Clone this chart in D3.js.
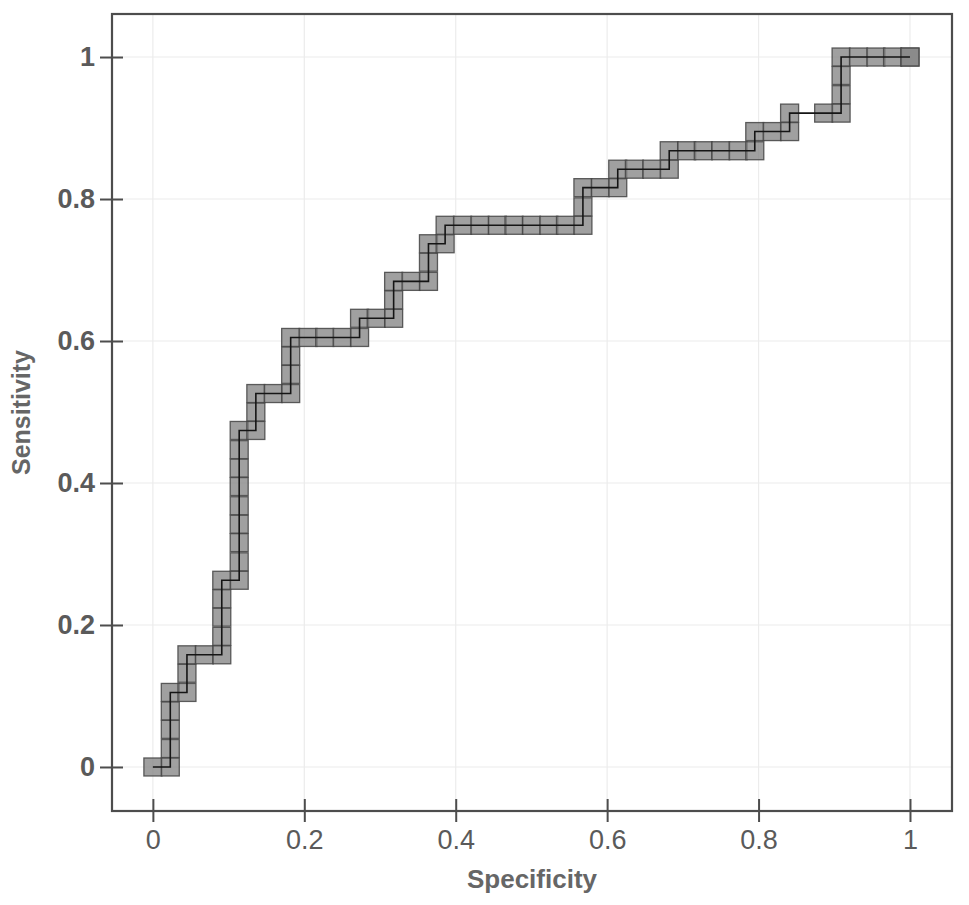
<!DOCTYPE html>
<html>
<head>
<meta charset="utf-8">
<script src="https://cdn.jsdelivr.net/npm/d3@7"></script>
<style>
  html, body { margin: 0; padding: 0; background: #fff; }
  svg { display: block; }
</style>
</head>
<body>
<svg id="chart" width="969" height="905"></svg>
<script>
const specificity = [0,0.023,0.023,0.023,0.023,0.023,0.045,0.045,0.045,0.068,0.091,0.091,0.091,0.091,0.091,0.114,0.114,0.114,0.114,0.114,0.114,0.114,0.114,0.114,0.136,0.136,0.136,0.159,0.182,0.182,0.182,0.182,0.205,0.227,0.25,0.273,0.273,0.295,0.318,0.318,0.318,0.341,0.364,0.364,0.364,0.386,0.386,0.409,0.432,0.455,0.477,0.5,0.523,0.545,0.568,0.568,0.568,0.591,0.614,0.614,0.636,0.659,0.682,0.682,0.705,0.727,0.75,0.773,0.795,0.795,0.818,0.841,0.841,0.886,0.909,0.909,0.909,0.909,0.932,0.955,0.977,1,1];
const sensitivity = [0,0,0.026,0.053,0.079,0.105,0.105,0.132,0.158,0.158,0.158,0.184,0.211,0.237,0.263,0.263,0.289,0.316,0.342,0.368,0.395,0.421,0.447,0.474,0.474,0.5,0.526,0.526,0.526,0.553,0.579,0.605,0.605,0.605,0.605,0.605,0.632,0.632,0.632,0.658,0.684,0.684,0.684,0.711,0.737,0.737,0.763,0.763,0.763,0.763,0.763,0.763,0.763,0.763,0.763,0.789,0.816,0.816,0.816,0.842,0.842,0.842,0.842,0.868,0.868,0.868,0.868,0.868,0.868,0.895,0.895,0.895,0.921,0.921,0.921,0.947,0.974,1,1,1,1,1,1];
const xTicks = [0, 0.2, 0.4, 0.6, 0.8, 1];
const yTicks = [0, 0.2, 0.4, 0.6, 0.8, 1];
const xTickLabels = ["0", "0.2", "0.4", "0.6", "0.8", "1"];
const yTickLabels = ["0", "0.2", "0.4", "0.6", "0.8", "1"];
const xTitle = "Specificity";
const yTitle = "Sensitivity";

const points = specificity.map((s, i) => ({x: s, y: sensitivity[i]}));

const svg = d3.select("#chart");
const L = 112, R = 952, T = 14, B = 811;
const x = d3.scaleLinear().domain([-0.054, 1.0555]).range([L, R]);
const y = d3.scaleLinear().domain([-0.062, 1.0606]).range([B, T]);
const FONT = "Liberation Sans, Arial, sans-serif";

// grid
const grid = svg.append("g");
grid.selectAll(".gx").data(xTicks).join("line")
  .attr("x1", d => x(d)).attr("x2", d => x(d))
  .attr("y1", T).attr("y2", B)
  .attr("stroke", "#ececec").attr("stroke-width", 1.2);
grid.selectAll(".gy").data(yTicks).join("line")
  .attr("y1", d => y(d)).attr("y2", d => y(d))
  .attr("x1", L).attr("x2", R)
  .attr("stroke", "#ececec").attr("stroke-width", 1.2);

// markers
const line = d3.line().x(d => x(d.x)).y(d => y(d.y));
const S = 18;
svg.append("g").selectAll("rect").data(points).join("rect")
  .attr("x", d => x(d.x) - S / 2)
  .attr("y", d => y(d.y) - S / 2)
  .attr("width", S).attr("height", S)
  .attr("fill", "#858585").attr("fill-opacity", 0.78)
  .attr("stroke", "#444").attr("stroke-opacity", 0.85).attr("stroke-width", 1.3);
svg.append("path").datum(points)
  .attr("d", line)
  .attr("fill", "none")
  .attr("stroke", "#151515")
  .attr("stroke-width", 1.6);

// frame
svg.append("rect").attr("x", L).attr("y", T).attr("width", R - L).attr("height", B - T)
  .attr("fill", "none").attr("stroke", "#4d4d4d").attr("stroke-width", 2.2);

// axes
const xAxis = d3.axisBottom(x).tickValues(xTicks).tickFormat((d, i) => xTickLabels[i]).tickSizeInner(11).tickSizeOuter(0);
const gx = svg.append("g").attr("transform", `translate(0,${B})`).call(xAxis);
gx.select(".domain").remove();
gx.selectAll(".tick line").attr("y1", -12).attr("y2", 11).attr("stroke", "#4d4d4d").attr("stroke-width", 2);
gx.selectAll(".tick text").attr("font-family", FONT)
  .attr("font-size", 27).attr("fill", "#5a5a5a").attr("y", 38).attr("dy", 0);

const yAxis = d3.axisLeft(y).tickValues(yTicks).tickFormat((d, i) => yTickLabels[i]).tickSizeInner(11).tickSizeOuter(0).tickPadding(6);
const gy = svg.append("g").attr("transform", `translate(${L},0)`).call(yAxis);
gy.select(".domain").remove();
gy.selectAll(".tick line").attr("x1", -12).attr("x2", 11).attr("stroke", "#4d4d4d").attr("stroke-width", 2);
gy.selectAll(".tick text").attr("font-family", FONT).attr("x", -17)
  .attr("font-size", 27).attr("font-weight", "bold").attr("fill", "#5a5a5a");

svg.append("text").attr("x", (L + R) / 2).attr("y", 888)
  .attr("text-anchor", "middle")
  .attr("font-family", FONT)
  .attr("font-size", 26).attr("font-weight", "bold").attr("fill", "#666")
  .text(xTitle);
svg.append("text")
  .attr("transform", `translate(30,${(T + B) / 2}) rotate(-90)`)
  .attr("text-anchor", "middle")
  .attr("font-family", FONT)
  .attr("font-size", 25).attr("font-weight", "bold").attr("fill", "#666")
  .text(yTitle);
</script>
</body>
</html>
